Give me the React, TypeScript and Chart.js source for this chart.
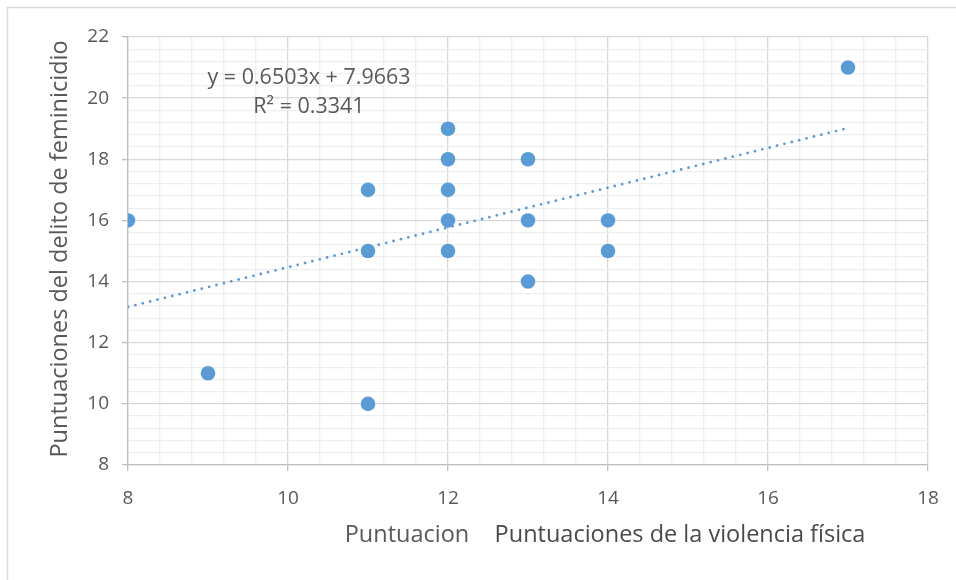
import React, { useEffect, useRef } from "react";
import { Chart, registerables } from "chart.js";

Chart.register(...registerables);

// Data
const violenciaFisica = [8, 9, 11, 11, 11, 12, 12, 12, 12, 12, 13, 13, 13, 14, 14, 17];
const delitoFeminicidio = [16, 11, 17, 15, 10, 19, 18, 17, 16, 15, 18, 16, 14, 16, 15, 21];
const trendSlope = 0.6503;
const trendIntercept = 7.9663;
const trendXRange = [8, 17];
const equationLabel = "y = 0.6503x + 7.9663";
const r2Label = "R² = 0.3341";
const xTitleA = "Puntuacion";
const xTitleB = "Puntuaciones de la violencia física";
const yTitle = "Puntuaciones del delito de feminicidio";
const xMin = 8, xMax = 18, yMin = 8, yMax = 22, majorStep = 2, minorStep = 0.4;

const FONT = "'Open Sans', sans-serif";
const TEXT = "#595959";
const BLUE = "#5b9bd5";

const isMajor = (v: number) => Math.abs(v / majorStep - Math.round(v / majorStep)) < 1e-6;

export default function App() {
  const ref = useRef<HTMLCanvasElement | null>(null);
  useEffect(() => {
    if (!ref.current) return;
    const points = violenciaFisica.map((x, i) => ({ x, y: delitoFeminicidio[i] }));
    const trend = trendXRange.map((x) => ({ x, y: trendSlope * x + trendIntercept }));

    const decor = {
      id: "decor",
      beforeDraw(chart: any) {
        const c = chart.ctx;
        c.save();
        c.fillStyle = "#fff";
        c.fillRect(0, 0, chart.width, chart.height);
        c.strokeStyle = "#d9d9d9";
        c.lineWidth = 1.5;
        c.beginPath();
        c.moveTo(7.5, chart.height);
        c.lineTo(7.5, 7.5);
        c.lineTo(chart.width, 7.5);
        c.stroke();
        c.restore();
      },
      afterDraw(chart: any) {
        const c = chart.ctx;
        const a = chart.chartArea;
        c.save();
        c.fillStyle = TEXT;
        c.textAlign = "center";
        c.textBaseline = "middle";
        c.font = `21.5px ${FONT}`;
        c.fillText(equationLabel, a.left + 181, a.top + 41);
        c.fillText(r2Label, a.left + 181, a.top + 70);
        c.font = `23.5px ${FONT}`;
        c.fillText(xTitleA, a.left + 279, a.bottom + 70);
        c.fillStyle = "#4a4a4a";
        c.fillText(xTitleB, a.left + 552, a.bottom + 70);
        c.fillStyle = TEXT;
        c.translate(a.left - 68, (a.top + a.bottom) / 2 - 2);
        c.rotate(-Math.PI / 2);
        c.fillText(yTitle, 0, 0);
        c.restore();
      },
    };

    const gridOpts = {
      color: (ctx: any) => (ctx.tick && isMajor(ctx.tick.value) ? "#d9d9d9" : "#eeeeee"),
      tickColor: (ctx: any) => (ctx.tick && isMajor(ctx.tick.value) ? "#bfbfbf" : "rgba(0,0,0,0)"),
      lineWidth: 1.3,
      tickLength: 6,
      drawTicks: true,
    };

    const chart = new Chart(ref.current, {
      type: "scatter",
      data: {
        datasets: [
          {
            type: "line",
            data: trend,
            borderColor: BLUE,
            borderWidth: 2.8,
            borderDash: [0, 7.6],
            borderCapStyle: "round",
            pointRadius: 0,
            fill: false,
            order: 2,
          } as any,
          {
            data: points,
            backgroundColor: BLUE,
            borderColor: BLUE,
            pointRadius: 7.3,
            pointBorderWidth: 0,
            order: 1,
          },
        ],
      },
      options: {
        animation: false,
        responsive: false,
        maintainAspectRatio: false,
        layout: { padding: { left: 0, top: 37, right: 28, bottom: 0 } },
        plugins: { legend: { display: false }, tooltip: { enabled: false } },
        scales: {
          x: {
            type: "linear",
            min: xMin,
            max: xMax,
            afterFit: (s: any) => { s.height = 115; },
            ticks: {
              stepSize: minorStep,
              autoSkip: false,
              maxRotation: 0,
              padding: 16,
              color: TEXT,
              font: { family: FONT, size: 19 },
              callback: (v: any) => (isMajor(Number(v)) ? String(Math.round(Number(v))) : ""),
            },
            grid: gridOpts as any,
            border: { color: "#bfbfbf", width: 1.3 },
          },
          y: {
            type: "linear",
            min: yMin,
            max: yMax,
            afterFit: (s: any) => { s.width = 128; },
            ticks: {
              stepSize: minorStep,
              autoSkip: false,
              padding: 13,
              color: TEXT,
              font: { family: FONT, size: 19 },
              callback: (v: any) => (isMajor(Number(v)) ? String(Math.round(Number(v))) : ""),
            },
            grid: gridOpts as any,
            border: { color: "#bfbfbf", width: 1.3 },
          },
        },
      },
      plugins: [decor],
    });
    return () => chart.destroy();
  }, []);

  return (
    <div style={{ position: "absolute", left: 0, top: 0, width: 956, height: 580 }}>
      <canvas ref={ref} width={956} height={580} style={{ display: "block" }} />
    </div>
  );
}
